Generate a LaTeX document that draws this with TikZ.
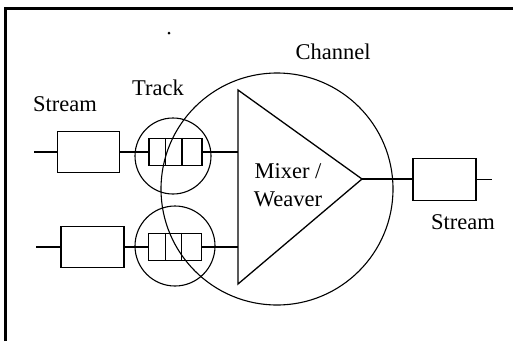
\documentclass[tikz,border=0pt]{standalone}
\usepackage{fontspec}
\setmainfont{Liberation Serif}
\usetikzlibrary{calc}
\tikzset{
  streambox/.style={draw, minimum width=62pt, minimum height=41pt, inner sep=0pt},
  bufbox/.style={draw, minimum width=53pt, minimum height=27pt, inner sep=0pt},
  ring/.style={draw, circle, line width=1.1pt, inner sep=0pt},
  lbl/.style={font=\fontsize{22.5}{28}\selectfont, inner sep=0pt},
}
\begin{document}
\begin{tikzpicture}[x=1pt,y=-1pt,line width=1.3pt]
\useasboundingbox (0,0) rectangle (513,341);

% frame
\draw[line width=3pt] (5.5,341) -- (5.5,8.5) -- (513,8.5);
\fill (169,33) circle (1.5pt);

% channel and tracks
\node[ring, minimum size=232pt] (channel) at (277,189) {};
\node[ring, minimum size=76pt] (track1) at (173,156) {};
\node[ring, minimum size=80pt] (track2) at (175,246) {};

% mixer
\coordinate (mixtop) at (238,90);
\coordinate (mixbot) at (238,284);
\coordinate (mixapex) at (362,179);
\draw (mixtop) -- (mixapex) -- (mixbot) -- cycle;
\node[lbl, align=center] (mixer) at (288,185) {Mixer /\\Weaver};

% buffers
\node[bufbox] (buf1) at (175.5,152) {};
\node[bufbox] (buf2) at (175,247) {};
\foreach \b in {buf1,buf2}{
  \draw ($(\b.north west)!0.32!(\b.north east)$) -- ($(\b.south west)!0.32!(\b.south east)$);
  \draw ($(\b.north west)!0.62!(\b.north east)$) -- ($(\b.south west)!0.62!(\b.south east)$);
}

% streams
\node[streambox] (in1) at (88.5,152) {};
\node[streambox, minimum width=63pt] (in2) at (92.5,247) {};
\node[streambox, minimum width=63pt, minimum height=42pt] (out) at (444.5,179.5) {};
\coordinate (in1end) at (34,152);
\coordinate (in2end) at (36,247);
\coordinate (outend) at (492,179.5);

\draw (in1end) -- (in1.west);
\draw (in2end) -- (in2.west);
\draw (in1.east) -- (buf1.west);
\draw (in2.east) -- (buf2.west);
\draw (buf1.east) -- (buf1.east -| mixtop);
\draw (buf2.east) -- (buf2.east -| mixtop);
\draw (mixapex) -- (out.west |- mixapex);
\draw (out.east) -- (outend);

% labels
\node[lbl] (lstream1) at (65,104) {Stream};
\node[lbl] (ltrack) at (158,88) {Track};
\node[lbl] (lchannel) at (333,52) {Channel};
\node[lbl] (lstream2) at (463,222) {Stream};

\end{tikzpicture}
\end{document}
